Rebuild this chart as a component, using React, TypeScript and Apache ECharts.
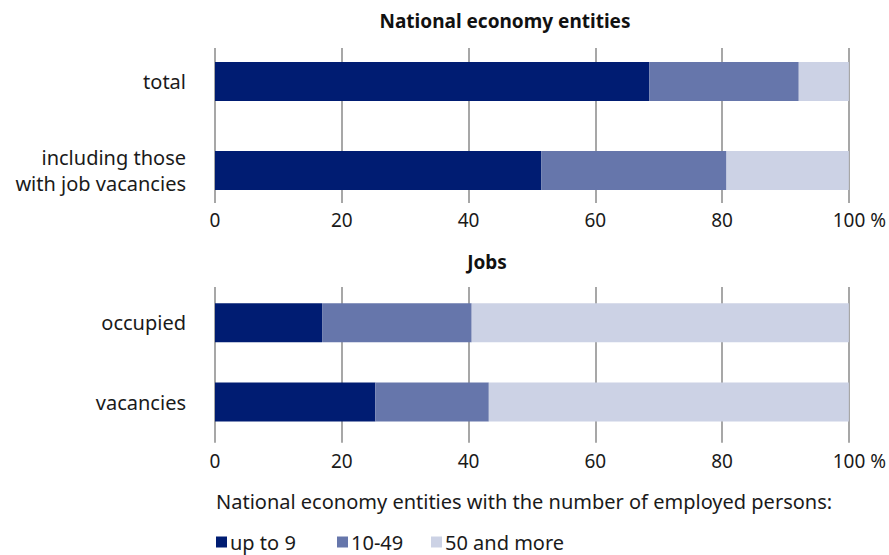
import React, { useEffect, useRef } from "react";
import * as echarts from "echarts";

const entityCategories = ["total", "including those\nwith job vacancies"];
const jobCategories = ["occupied", "vacancies"];
const seriesNames = ["up to 9", "10-49", "50 and more"];
const entitiesUpTo9 = [68.5, 51.5];
const entities10to49 = [23.6, 29.2];
const entities50plus = [7.9, 19.3];
const jobsUpTo9 = [16.9, 25.3];
const jobs10to49 = [23.6, 17.9];
const jobs50plus = [59.5, 56.8];
const xTicks = [0, 20, 40, 60, 80, 100];

const COLORS = ["#001c72", "#6676ab", "#ccd2e5"];
const FONT = "Noto Sans";
const TXT = "#1a1a1a";

export default function App() {
  const ref = useRef<HTMLDivElement>(null);
  useEffect(() => {
    document.body.style.margin = "0";
    const chart = echarts.init(ref.current!, null, { renderer: "svg" });
    const xAxisCommon = (gridIndex: number, offset: number, tickLen: number, margin: number) => ({
      type: "value",
      gridIndex,
      min: xTicks[0],
      max: xTicks[xTicks.length - 1],
      interval: xTicks[1] - xTicks[0],
      position: "bottom",
      offset,
      axisLine: { show: false },
      splitLine: { show: false },
      axisTick: { show: true, inside: true, length: tickLen, lineStyle: { color: "#8a8a8a", width: 1.5 } },
      axisLabel: {
        margin,
        fontFamily: FONT,
        fontSize: 19,
        color: TXT,
        formatter: (v: number) => (v === 100 ? "{p|100 %}" : String(v)),
        rich: { p: { fontFamily: FONT, fontSize: 19, color: TXT, padding: [0, 0, 0, 21] } },
      },
    });
    const yAxisCommon = (gridIndex: number, data: string[]) => ({
      type: "category",
      gridIndex,
      inverse: true,
      data,
      axisLine: { show: false },
      axisTick: { show: false },
      axisLabel: { margin: 29, fontFamily: FONT, fontSize: 20, color: TXT, lineHeight: 26, align: "right" },
    });
    const mk = (name: string, data: number[], idx: number, stack: string, color: string) => ({
      type: "bar",
      name,
      data,
      xAxisIndex: idx,
      yAxisIndex: idx,
      stack,
      barWidth: 39,
      itemStyle: { color },
    });
    const legendLefts = [216, 337, 431];
    chart.setOption({
      animation: false,
      title: [
        { text: "National economy entities", left: 505, top: 11, padding: 0, textAlign: "center",
          textStyle: { fontFamily: FONT, fontSize: 19, fontWeight: "bold", color: "#111" } },
        { text: "Jobs", left: 487, top: 252, padding: 0, textAlign: "center",
          textStyle: { fontFamily: FONT, fontSize: 19, fontWeight: "bold", color: "#111" } },
        { text: "National economy entities with the number of employed persons:", left: 216, top: 491, padding: 0,
          textStyle: { fontFamily: FONT, fontSize: 20, fontWeight: "normal", color: TXT } },
      ],
      legend: seriesNames.map((n, i) => ({
        data: [n],
        left: legendLefts[i],
        top: 532,
        padding: 0,
        icon: "rect",
        itemWidth: 11,
        itemHeight: 11,
        itemGap: 3,
        selectedMode: false,
        textStyle: { fontFamily: FONT, fontSize: 20, color: TXT, padding: [0, 0, 0, -2] },
      })),
      grid: [
        { left: 215, right: 39.5, top: 37, bottom: 340 },
        { left: 215, right: 39.5, top: 283, bottom: 113.3 },
      ],
      xAxis: [xAxisCommon(0, -12, 155, 7), xAxisCommon(1, 1, 155.7, 9)],
      yAxis: [yAxisCommon(0, entityCategories), yAxisCommon(1, jobCategories)],
      series: [
        mk(seriesNames[0], entitiesUpTo9, 0, "e", COLORS[0]),
        mk(seriesNames[1], entities10to49, 0, "e", COLORS[1]),
        mk(seriesNames[2], entities50plus, 0, "e", COLORS[2]),
        mk(seriesNames[0], jobsUpTo9, 1, "j", COLORS[0]),
        mk(seriesNames[1], jobs10to49, 1, "j", COLORS[1]),
        mk(seriesNames[2], jobs50plus, 1, "j", COLORS[2]),
      ],
    });
    return () => chart.dispose();
  }, []);
  return <div ref={ref} style={{ width: 889, height: 555 }} />;
}
